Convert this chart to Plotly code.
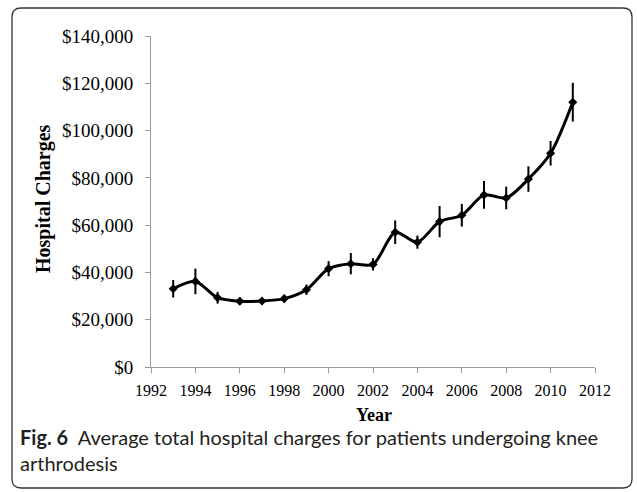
import plotly.graph_objects as go

years = list(range(1993, 2012))
charges = [33100, 36200, 29300, 27800, 27900, 28900, 32700, 41600, 43700, 43400,
           57000, 52800, 61500, 64200, 72800, 71500, 79500, 90400, 112000]
errors = [3700, 5400, 2500, 1600, 1500, 1600, 2200, 3200, 4500, 2600,
          5000, 2800, 6600, 4800, 5900, 4800, 5400, 5200, 8200]
x_ticks = list(range(1992, 2013, 2))
y_ticks = list(range(0, 140001, 20000))
y_tick_labels = ["$0"] + [f"${v:,}" for v in y_ticks[1:]]

W, H = 637, 492
L, R, T, B = 151, 42, 36, 125
PW, PH = W - L - R, H - T - B

def px(xp):
    return (xp - L) / PW

def py(yp):
    return (H - B - yp) / PH

fig = go.Figure()
fig.add_trace(go.Scatter(
    x=years, y=charges,
    mode="lines+markers",
    line=dict(color="black", width=3, shape="spline", smoothing=0.8),
    marker=dict(symbol="diamond", size=7, color="black"),
    error_y=dict(type="data", array=errors, visible=True, color="black",
                 thickness=2, width=0),
    showlegend=False,
))

serif = "Liberation Serif, Times New Roman, serif"
fig.update_xaxes(range=[1992, 2012], tickvals=x_ticks, showgrid=False,
                 showline=True, linecolor="#9a9a9a", linewidth=1,
                 ticks="outside", ticklen=5, tickcolor="#9a9a9a",
                 ticklabelstandoff=4,
                 tickfont=dict(family=serif, size=16, color="black"),
                 zeroline=False)
fig.update_yaxes(range=[0, 140000], tickvals=y_ticks, ticktext=y_tick_labels,
                 showgrid=False, showline=True, linecolor="#9a9a9a", linewidth=1,
                 ticks="outside", ticklen=5, tickcolor="#9a9a9a",
                 ticklabelstandoff=8,
                 tickfont=dict(family=serif, size=19, color="black"),
                 zeroline=False)

# rounded border
x0, x1, y0, y1, r = 12, 632, 8, 488, 9
def P(a, b):
    return f"{px(a)},{py(b)}"
path = (f"M {P(x0 + r, y0)} L {P(x1 - r, y0)} Q {P(x1, y0)} {P(x1, y0 + r)} "
        f"L {P(x1, y1 - r)} Q {P(x1, y1)} {P(x1 - r, y1)} "
        f"L {P(x0 + r, y1)} Q {P(x0, y1)} {P(x0, y1 - r)} "
        f"L {P(x0, y0 + r)} Q {P(x0, y0)} {P(x0 + r, y0)} Z")
fig.add_shape(type="path", path=path, xref="paper", yref="paper",
              line=dict(color="#333333", width=1.3))

cap_font = dict(family="Lato, Open Sans, sans-serif", size=20, color="#231f20")
anns = [
    dict(text="<b>Hospital Charges</b>", x=px(43), y=py(199), textangle=-90,
         font=dict(family=serif, size=20, color="black")),
    dict(text="<b>Year</b>", x=px(374), y=py(415),
         font=dict(family=serif, size=18, color="black")),
    dict(text="<b>Fig. 6</b>  Average total hospital charges for patients undergoing knee",
         x=px(18), y=py(437), xanchor="left", font=cap_font),
    dict(text="arthrodesis", x=px(18), y=py(463), xanchor="left", font=cap_font),
]
for a in anns:
    a.setdefault("xanchor", "center")
    fig.add_annotation(xref="paper", yref="paper", showarrow=False,
                       yanchor="middle", **a)

fig.update_layout(width=W, height=H, margin=dict(l=L, r=R, t=T, b=B),
                  plot_bgcolor="white", paper_bgcolor="white")

fig.write_html("out.html", config={"displayModeBar": False},
               post_script="document.body.style.margin='0';")
